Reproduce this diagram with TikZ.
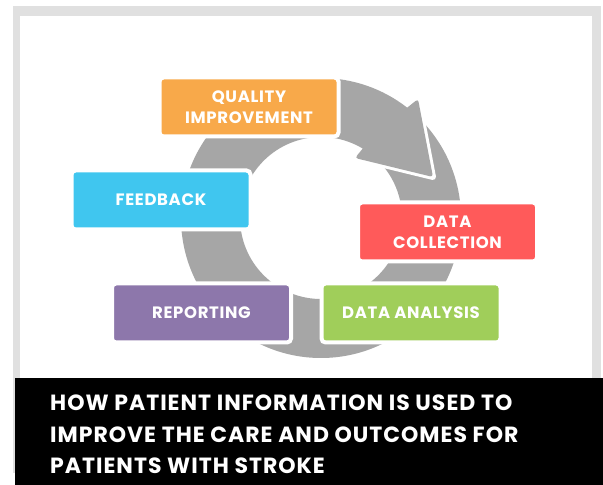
\documentclass[tikz,border=0pt]{standalone}
\usepackage{fontspec}
\setmainfont{Poppins}
\usepackage{xcolor}
\usetikzlibrary{calc}

\definecolor{framegray}{HTML}{E0E0E0}
\definecolor{ringgray}{HTML}{A6A6A6}
\definecolor{qiorange}{HTML}{F8A94A}
\definecolor{fbblue}{HTML}{40C6EF}
\definecolor{dcred}{HTML}{FF5A5A}
\definecolor{dagreen}{HTML}{A0CE5A}
\definecolor{rppurple}{HTML}{8D77AB}

\begin{document}
\begin{tikzpicture}[x=1pt, y=1pt,
                box/.style={rectangle, rounded corners=4pt, draw=white, line width=4pt,
                  minimum width=179pt, minimum height=59pt, inner sep=0pt, align=center,
                  text=white, font=\bfseries\fontsize{16.5}{21}\selectfont\addfontfeature{LetterSpace=4}},
                heading/.style={anchor=north west, inner sep=0pt, align=left, text=white,
                  font=\bfseries\fontsize{22}{31.5}\selectfont\addfontfeature{LetterSpace=4.5}}]

  \useasboundingbox (0,0) rectangle (603,485);
  \fill[framegray] (13,12) rectangle (601,479);
  \fill[white] (20,12) rectangle (592,469);

  \coordinate (c) at (321,267);
  % tail of the loop, runs in under the head
  \fill[ringgray] ($(c)+(-5:140)$) arc[start angle=-5, end angle=50, radius=140]
    -- ($(c)+(50:81)$) arc[start angle=50, end angle=-5, radius=81] -- cycle;
  \draw[white, line width=6pt, line cap=round, line join=round]
    (418,386) -- (433,308) -- (355,327);
  % loop and head in one piece
  \fill[ringgray] ($(c)+(0:140)$) arc[start angle=0, end angle=-308, radius=140]
    [rounded corners=3pt] -- (418,386) -- (433,308) -- (355,327)
    [sharp corners] -- ($(c)+(59:81)$) arc[start angle=-301, end angle=0, radius=81] -- cycle;

  \node[box, fill=qiorange] (quality) at (249,378) {QUALITY\\IMPROVEMENT};
  \node[box, fill=fbblue] (feedback) at (161,285) {FEEDBACK};
  \node[box, fill=dcred] (collection) at (447.5,253) {DATA\\COLLECTION};
  \node[box, fill=dagreen] (analysis) at (411,172) {DATA ANALYSIS};
  \node[box, fill=rppurple] (reporting) at (201.5,172) {REPORTING};

  \fill[black] (15,0) rectangle (603,107);
  \node[heading] (title) at (50,90) {HOW PATIENT INFORMATION IS USED TO\\
    IMPROVE THE CARE AND OUTCOMES FOR\\PATIENTS WITH STROKE};
\end{tikzpicture}
\end{document}
